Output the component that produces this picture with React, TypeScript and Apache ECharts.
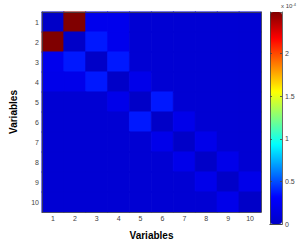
import React, { useEffect, useRef } from "react";
import * as echarts from "echarts";

const categories = ["1", "2", "3", "4", "5", "6", "7", "8", "9", "10"];
const colorTicks = [0, 0.5, 1, 1.5, 2];
const vMin = 0;
const vMax = 2.49;
const bg = 0.06;
// rows of the matrix (row i = y category i), values in units of 1e-4
const row1 = [0, 2.49, 0.21, 0.21, bg, bg, bg, bg, bg, bg];
const row2 = [2.49, 0, 0.37, 0.21, bg, bg, bg, bg, bg, bg];
const row3 = [0.21, 0.37, 0, 0.37, bg, bg, bg, bg, bg, bg];
const row4 = [0.19, 0.19, 0.37, 0, 0.19, bg, bg, bg, bg, bg];
const row5 = [bg, bg, bg, 0.19, 0, 0.37, bg, bg, bg, bg];
const row6 = [bg, bg, bg, bg, 0.37, 0, 0.19, bg, bg, bg];
const row7 = [bg, bg, bg, bg, bg, 0.19, 0, 0.19, bg, bg];
const row8 = [bg, bg, bg, bg, bg, bg, 0.19, 0, 0.19, bg];
const row9 = [bg, bg, bg, bg, bg, bg, bg, 0.19, 0, 0.19];
const row10 = [bg, bg, bg, bg, bg, bg, bg, bg, 0.19, 0];
const matrix = [row1, row2, row3, row4, row5, row6, row7, row8, row9, row10];

const jet = [
  "#0000c8",
  "#0000ff",
  "#0080ff",
  "#00ffff",
  "#80ff80",
  "#ffff00",
  "#ff8000",
  "#ff0000",
  "#800000",
];

const FONT = "Liberation Sans, Arial, sans-serif";
const AX = "#444";

function hexToRgb(h: string) {
  return [parseInt(h.slice(1, 3), 16), parseInt(h.slice(3, 5), 16), parseInt(h.slice(5, 7), 16)];
}
function colorOf(v: number) {
  const t = Math.max(0, Math.min(1, (v - vMin) / (vMax - vMin))) * (jet.length - 1);
  const i = Math.min(jet.length - 2, Math.floor(t));
  const f = t - i;
  const a = hexToRgb(jet[i]);
  const b = hexToRgb(jet[i + 1]);
  const c = a.map((x, k) => Math.round(x + (b[k] - x) * f));
  return `rgb(${c[0]},${c[1]},${c[2]})`;
}

export default function App() {
  const ref = useRef<HTMLDivElement>(null);
  useEffect(() => {
    if (!ref.current) return;
    const chart = echarts.init(ref.current, undefined, { renderer: "svg" });
    const data: any[] = [];
    matrix.forEach((row, r) =>
      row.forEach((v, c) =>
        data.push({ value: [c, r, v], itemStyle: { borderColor: colorOf(v), borderWidth: 0.5 } })
      )
    );
    const lbl = { fontSize: 7, color: AX, fontFamily: FONT };
    const tick = { inside: true, alignWithLabel: true, length: 3, lineStyle: { color: AX, width: 0.8 } };
    const line = { lineStyle: { color: AX, width: 0.8 } };
    chart.setOption({
      animation: false,
      backgroundColor: "#fff",
      grid: [
        { left: 24, top: 12, width: 237, height: 211 },
        { left: 270, top: 12, width: 12, height: 212 },
      ],
      xAxis: [
        {
          type: "category",
          data: categories,
          gridIndex: 0,
          position: "bottom",
          name: "Variables",
          nameLocation: "middle",
          nameGap: 18,
          nameTextStyle: { fontSize: 10, fontWeight: "bold", color: "#000", fontFamily: FONT },
          axisLine: line,
          axisTick: tick,
          axisLabel: { ...lbl, margin: 3 },
          splitLine: { show: false },
          z: 5,
        },
        {
          type: "category",
          data: categories,
          gridIndex: 0,
          position: "top",
          axisLine: line,
          axisTick: tick,
          axisLabel: { show: false },
          z: 5,
        },
        {
          type: "category",
          data: [""],
          gridIndex: 1,
          position: "bottom",
          axisLine: line,
          axisTick: { show: false },
          axisLabel: { show: false },
          z: 5,
        },
        {
          type: "category",
          data: [""],
          gridIndex: 1,
          position: "top",
          axisLine: line,
          axisTick: { show: false },
          axisLabel: { show: false },
          z: 5,
        },
      ],
      yAxis: [
        {
          type: "category",
          data: categories,
          gridIndex: 0,
          inverse: true,
          position: "left",
          name: "Variables",
          nameLocation: "middle",
          nameGap: 24,
          nameTextStyle: { fontSize: 10, fontWeight: "bold", color: "#000", fontFamily: FONT },
          axisLine: line,
          axisTick: tick,
          axisLabel: { ...lbl, margin: 3 },
          z: 5,
        },
        {
          type: "category",
          data: categories,
          gridIndex: 0,
          inverse: true,
          position: "right",
          axisLine: line,
          axisTick: tick,
          axisLabel: { show: false },
          z: 5,
        },
        {
          type: "value",
          gridIndex: 1,
          min: vMin,
          max: vMax,
          interval: 0.5,
          position: "right",
          axisLine: { show: true, ...line },
          axisTick: { show: true, inside: true, length: 2, lineStyle: { color: AX, width: 0.8 } },
          axisLabel: {
            ...lbl,
            margin: 3,
            formatter: (v: number) => (colorTicks.includes(v) ? String(v) : ""),
          },
          splitLine: { show: false },
          z: 5,
        },
        {
          type: "value",
          gridIndex: 1,
          min: vMin,
          max: vMax,
          interval: 0.5,
          position: "left",
          axisLine: { show: true, ...line },
          axisTick: { show: true, inside: true, length: 2, lineStyle: { color: AX, width: 0.8 } },
          axisLabel: { show: false },
          splitLine: { show: false },
          z: 5,
        },
      ],
      visualMap: {
        type: "continuous",
        min: vMin,
        max: vMax,
        seriesIndex: 0,
        calculable: false,
        show: true,
        orient: "vertical",
        left: 270,
        top: 12,
        itemWidth: 12,
        itemHeight: 212,
        padding: 0,
        text: null,
        inRange: { color: jet },
        hoverLink: false,
      },
      graphic: [
        {
          type: "text",
          left: 281,
          top: 2,
          style: {
            text: "{a|x 10}{b|-4}",
            rich: {
              a: { fontSize: 6, fill: AX, fontFamily: FONT, verticalAlign: "bottom" },
              b: { fontSize: 4, fill: AX, fontFamily: FONT, verticalAlign: "top", padding: [0, 0, 3, 0] },
            },
          },
        },
      ],
      series: [
        {
          type: "heatmap",
          xAxisIndex: 0,
          yAxisIndex: 0,
          data,
          emphasis: { disabled: true },
        },
        {
          type: "scatter",
          xAxisIndex: 2,
          yAxisIndex: 2,
          data: [],
        },
      ],
    });
    return () => chart.dispose();
  }, []);
  return <div ref={ref} style={{ width: 300, height: 245, position: "absolute", left: 0, top: 0 }} />;
}
